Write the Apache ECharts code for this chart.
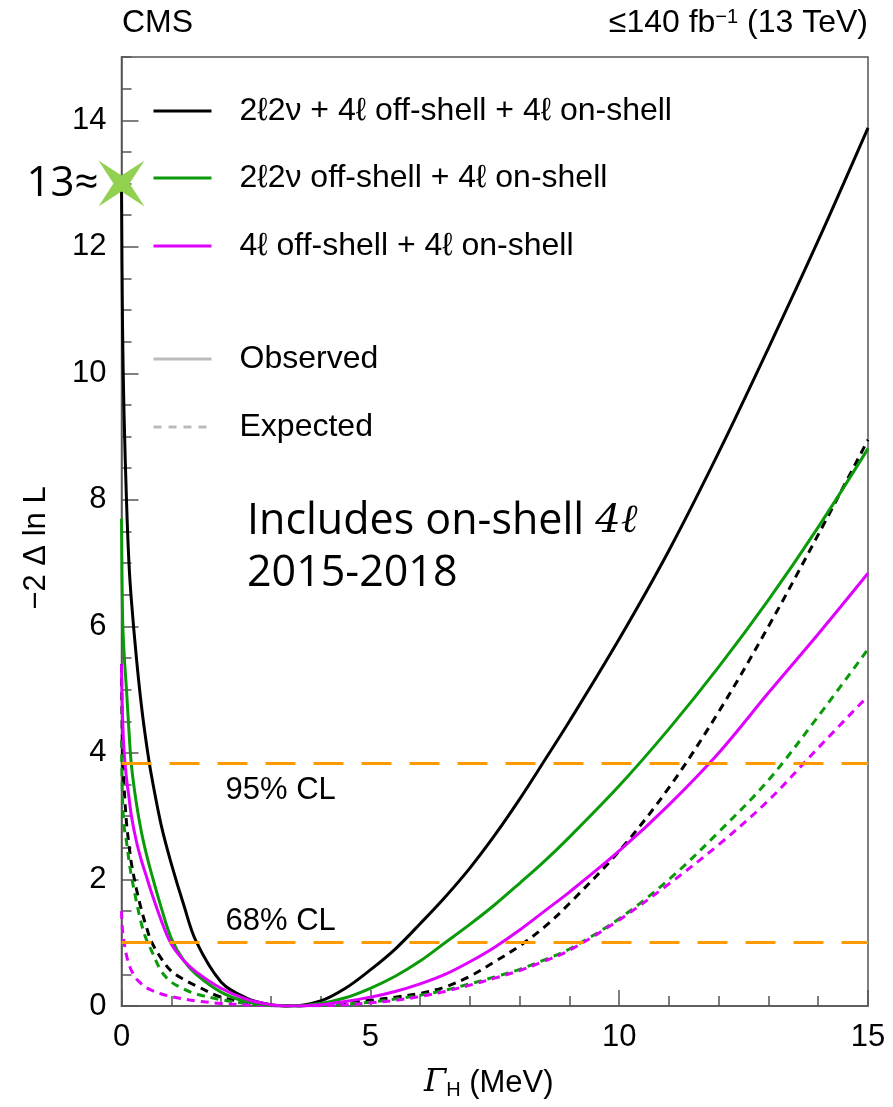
<!DOCTYPE html>
<html><head><meta charset="utf-8">
<script src="https://cdn.jsdelivr.net/npm/echarts@6/dist/echarts.min.js"></script>
<style>html,body{margin:0;padding:0;background:#fff}#c{width:893px;height:1107px}</style>
</head><body><div id="c"></div>
<script>
// Γ_H grid (MeV)
const gamma = [0,0.02,0.05,0.1,0.15,0.2,0.3,0.4,0.5,0.6,0.8,1.0,1.25,1.5,2.0,2.5,3.0,3.4,4.0,4.5,5.0,5.5,6.0,6.5,7.0,7.5,8.0,8.5,9.0,10,11,12,13,14,15];
// Observed -2ΔlnL
const obsAll   = [13.0,10.8,9.4,8.0,7.0,6.4,5.5,4.75,4.15,3.65,2.85,2.25,1.6,1.02,0.38,0.13,0.02,0,0.08,0.28,0.57,0.9,1.3,1.72,2.18,2.7,3.27,3.88,4.5,5.8,7.2,8.75,10.4,12.1,13.88];
const obs2l2nu = [7.7,6.2,5.6,5.0,4.35,3.8,3.2,2.75,2.4,2.1,1.55,1.07,0.72,0.5,0.22,0.07,0.01,0,0.04,0.13,0.28,0.47,0.71,1.0,1.29,1.6,1.94,2.29,2.67,3.48,4.38,5.36,6.42,7.57,8.81];
const obs4l    = [5.4,4.6,4.05,3.6,3.3,3.0,2.6,2.3,2.05,1.8,1.35,0.98,0.72,0.54,0.28,0.11,0.02,0,0.02,0.07,0.14,0.23,0.35,0.5,0.7,0.93,1.2,1.5,1.8,2.45,3.18,4.0,4.95,5.88,6.84];
// Expected -2ΔlnL
const expAll   = [5.4,4.1,3.5,2.9,2.55,2.25,1.85,1.52,1.25,1.02,0.75,0.55,0.42,0.32,0.14,0.06,0.01,0,0.02,0.05,0.09,0.14,0.2,0.3,0.47,0.7,0.95,1.25,1.62,2.45,3.45,4.65,6.0,7.45,8.95];
const exp2l2nu = [4.2,3.3,2.85,2.6,2.3,2.05,1.65,1.3,1.05,0.88,0.55,0.38,0.27,0.19,0.1,0.04,0.01,0,0.01,0.03,0.06,0.11,0.17,0.25,0.35,0.46,0.58,0.73,0.9,1.38,2.0,2.75,3.57,4.58,5.64];
const exp4l    = [1.5,1.2,1.02,0.8,0.66,0.56,0.43,0.35,0.29,0.25,0.19,0.15,0.11,0.08,0.04,0.02,0.005,0,0.005,0.02,0.05,0.09,0.15,0.23,0.33,0.44,0.56,0.71,0.88,1.36,1.93,2.55,3.25,4.08,4.9];
// confidence levels
const clValues = [3.84, 1.0];
const clLabels = ['95% CL', '68% CL'];
// highlighted value on the y axis
const starPoint = [0, 13];
const starLabel = '13≈';
// names
const names = ['2ℓ2ν + 4ℓ off-shell + 4ℓ on-shell', '2ℓ2ν off-shell + 4ℓ on-shell', '4ℓ off-shell + 4ℓ on-shell', 'Observed', 'Expected'];
const xTicks = [0, 5, 10, 15];

const FONT = 'Liberation Sans';
const C_BLACK = '#000000', C_GREEN = '#0a9a0a', C_MAG = '#e000ff', C_ORANGE = '#ff9900', C_GREY = '#bbbbbb', C_AXIS = '#555555';
const DASH = [8, 6];

function pts(vals) { return gamma.map((g, i) => [g, vals[i]]); }
function curve(name, vals, color, dashed) {
  return {
    type: 'line', name: name, data: pts(vals), symbol: 'none', showSymbol: false,
    smooth: 0.35,
    lineStyle: { color: color, width: 3, type: dashed ? DASH : 'solid' },
    itemStyle: { color: color }, z: dashed ? 3 : 4
  };
}
function leg(name, top) {
  return {
    data: [name], orient: 'vertical', left: 152, top: top, itemWidth: 58, itemHeight: 14, padding: 0,
    selectedMode: false, itemGap: 0,
    itemStyle: { opacity: 0, borderWidth: 0 },
    lineStyle: { width: 3 },
    textStyle: { fontFamily: FONT, fontSize: 32, color: '#000', padding: [0, 0, 0, 23], lineHeight: 32 }
  };
}

const chart = echarts.init(document.getElementById('c'), null, { renderer: 'canvas' });
const option = {
  animation: false,
  backgroundColor: '#ffffff',
  title: [
    { text: 'CMS', left: 122, top: 7, padding: 0, textStyle: { fontFamily: FONT, fontSize: 32, fontWeight: 'normal', color: '#000' } },
    { text: '≤140 fb{sup|−1} (13 TeV)', right: 25, top: 7, padding: 0,
      textStyle: { fontFamily: FONT, fontSize: 32, fontWeight: 'normal', color: '#000',
        rich: { sup: { fontFamily: FONT, fontSize: 20, verticalAlign: 'top', color: '#000' } } } },
    { text: '{a|Includes on-shell }{b|4ℓ}\n{a|2015-2018}', left: 247, top: 496, padding: 0,
      textStyle: { fontWeight: 'normal', color: '#000',
        rich: { a: { fontFamily: 'Open Sans', fontSize: 43, lineHeight: 52, color: '#000' },
                b: { fontFamily: 'DejaVu Serif', fontStyle: 'italic', fontSize: 40, lineHeight: 52, color: '#000' } } } }
  ],
  legend: [
    leg(names[0], 95), leg(names[1], 162), leg(names[2], 230), leg(names[3], 343), leg(names[4], 411)
  ],
  grid: { left: 121.5, right: 25, top: 57, bottom: 101, show: true, borderColor: C_AXIS, borderWidth: 1.5, backgroundColor: 'transparent' },
  xAxis: {
    type: 'value', min: 0, max: 15, interval: 5,
    name: '{g|Γ}{s|H} (MeV)', nameLocation: 'middle', nameGap: 60,
    nameTextStyle: { fontFamily: FONT, fontSize: 31, color: '#000', padding: [0, 12, 0, 0],
      rich: { g: { fontFamily: 'DejaVu Serif', fontStyle: 'italic', fontSize: 32, color: '#000' },
              s: { fontFamily: FONT, fontSize: 20, verticalAlign: 'bottom', padding: [14, 0, 0, 0], color: '#000' } } },
    axisLine: { lineStyle: { color: C_AXIS, width: 1.5 } },
    axisTick: { inside: true, length: 16, lineStyle: { color: C_AXIS, width: 1.5 } },
    minorTick: { show: true, splitNumber: 5, length: 10, lineStyle: { color: C_AXIS, width: 1.5 } },
    axisLabel: { fontFamily: FONT, fontSize: 31, color: '#000', margin: 16,
      formatter: v => (xTicks.indexOf(v) >= 0 ? String(v) : '') },
    splitLine: { show: false }
  },
  yAxis: [
    {
      type: 'value', min: 0, max: 15, interval: 2,
      name: '−2 Δ ln L', nameLocation: 'middle', nameGap: 70,
      nameTextStyle: { fontFamily: FONT, fontSize: 31, color: '#000', padding: [0, 33, 0, 0] },
      axisLine: { show: true, lineStyle: { color: C_AXIS, width: 1.5 } },
      axisTick: { inside: true, length: 17, lineStyle: { color: C_AXIS, width: 1.5 } },
      axisLabel: { fontFamily: FONT, fontSize: 31, color: '#000', margin: 15, showMaxLabel: false },
      splitLine: { show: false }
    },
    {
      type: 'value', min: 0, max: 15, interval: 0.5, position: 'left', offset: 0,
      axisLine: { show: false },
      axisTick: { show: true, inside: true, length: 10, lineStyle: { color: C_AXIS, width: 1.5 } },
      axisLabel: { show: false }, splitLine: { show: false }
    }
  ],
  series: [
    curve(names[0], obsAll, C_BLACK, false),
    curve(names[1], obs2l2nu, C_GREEN, false),
    curve(names[2], obs4l, C_MAG, false),
    curve(names[0], expAll, C_BLACK, true),
    curve(names[1], exp2l2nu, C_GREEN, true),
    curve(names[2], exp4l, C_MAG, true),
    { type: 'line', name: names[3], data: [], symbol: 'none', lineStyle: { color: C_GREY, width: 3 }, itemStyle: { color: C_GREY } },
    { type: 'line', name: names[4], data: [], symbol: 'none', lineStyle: { color: C_GREY, width: 3, type: [8, 7] }, itemStyle: { color: C_GREY } },
    {
      type: 'line', name: 'CL', data: [], symbol: 'none',
      markLine: {
        silent: true, symbol: 'none', animation: false,
        lineStyle: { color: C_ORANGE, width: 3, type: [30, 18] },
        label: { fontFamily: FONT, fontSize: 31, color: '#000' },
        data: [
          { yAxis: clValues[0], label: { formatter: clLabels[0], position: 'insideStartBottom', distance: [104, 12] } },
          { yAxis: clValues[1], label: { formatter: clLabels[1], position: 'insideStartTop', distance: [104, 6] } }
        ]
      }
    },
    {
      type: 'scatter', name: 'star', data: [starPoint], clip: false, z: 10,
      symbol: 'path://M-10,-10 L0,-3.5 L10,-10 L3.5,0 L10,10 L0,3.5 L-10,10 L-3.5,0 Z',
      symbolSize: 46, itemStyle: { color: '#92d050', opacity: 1 },
      label: { show: true, position: 'left', distance: 0, formatter: starLabel, fontFamily: 'Open Sans', fontSize: 42, color: '#000', opacity: 1 }
    }
  ]
};
chart.setOption(option);
</script>
</body></html>
